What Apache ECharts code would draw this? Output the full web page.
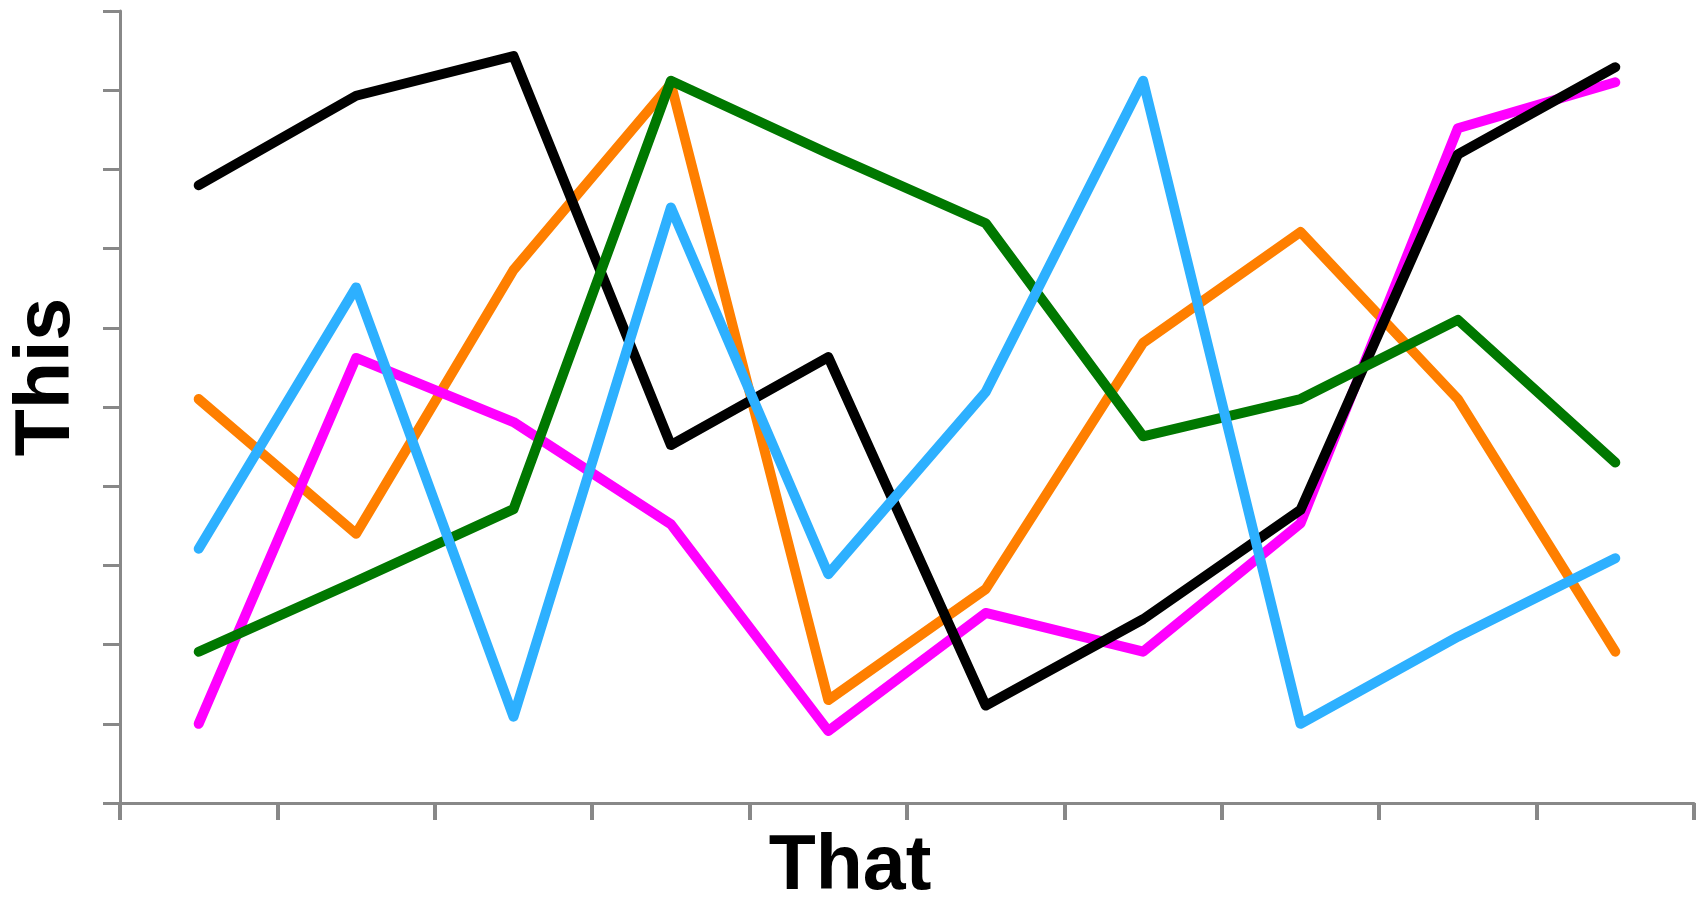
<!DOCTYPE html>
<html>
<head>
<meta charset="utf-8">
<script src="https://cdn.jsdelivr.net/npm/echarts@6/dist/echarts.min.js"></script>
<style>
html,body{margin:0;padding:0;background:#fff;}
#chart{width:1699px;height:911px;}
</style>
</head>
<body>
<div id="chart"></div>
<script>
const categories = ['1','2','3','4','5','6','7','8','9','10'];
const yTicks = [0,1,2,3,4,5,6,7,8,9,10];
const orangeValues  = [5.10, 3.40, 6.73, 9.08, 1.30, 2.70, 5.81, 7.21, 5.10, 1.91];
const magentaValues = [1.00, 5.62, 4.81, 3.52, 0.91, 2.40, 1.91, 3.53, 8.52, 9.10];
const blackValues   = [7.80, 8.93, 9.43, 4.52, 5.63, 1.23, 2.32, 3.70, 8.19, 9.29];
const greenValues   = [1.91, 2.80, 3.71, 9.12, 8.20, 7.32, 4.63, 5.10, 6.10, 4.30];
const blueValues    = [3.21, 6.51, 1.09, 7.52, 2.89, 5.19, 9.12, 1.00, 2.10, 3.09];
const xTitle = 'That';
const yTitle = 'This';

const axisGray = '#888888';
function lineSeries(name, data, color) {
  return {
    name: name, type: 'line', data: data, symbol: 'none',
    lineStyle: { color: color, width: 10, cap: 'round', join: 'round' },
    itemStyle: { color: color }
  };
}
const chart = echarts.init(document.getElementById('chart'));
chart.setOption({
  animation: false,
  backgroundColor: '#ffffff',
  grid: { left: 120, right: 5, top: 11, bottom: 94, containLabel: false },
  xAxis: {
    type: 'category', data: categories, boundaryGap: true,
    name: xTitle, nameLocation: 'middle', nameGap: 26,
    nameTextStyle: { fontFamily: 'Liberation Sans, Arial, sans-serif', fontWeight: 'bold', fontSize: 77, color: '#000', padding: [0, 114, 0, 0] },
    axisLine: { show: true, lineStyle: { color: axisGray, width: 3 } },
    axisTick: { show: true, inside: false, length: 17, alignWithLabel: false, lineStyle: { color: axisGray, width: 4 } },
    axisLabel: { show: false },
    splitLine: { show: false }
  },
  yAxis: {
    type: 'value', min: yTicks[0], max: yTicks[yTicks.length - 1], interval: 1,
    name: yTitle, nameLocation: 'middle', nameGap: 34, nameRotate: 90,
    nameTextStyle: { fontFamily: 'Liberation Sans, Arial, sans-serif', fontWeight: 'bold', fontSize: 77, color: '#000', padding: [0, 0, 0, 60] },
    axisLine: { show: true, lineStyle: { color: axisGray, width: 3 } },
    axisTick: { show: true, inside: false, length: 17, lineStyle: { color: axisGray, width: 3 } },
    axisLabel: { show: false },
    splitLine: { show: false }
  },
  series: [
    lineSeries('Orange', orangeValues, '#ff7f00'),
    lineSeries('Magenta', magentaValues, '#ff00ff'),
    lineSeries('Black', blackValues, '#000000'),
    lineSeries('Green', greenValues, '#007800'),
    lineSeries('Blue', blueValues, '#2db0ff')
  ]
});
</script>
</body>
</html>
